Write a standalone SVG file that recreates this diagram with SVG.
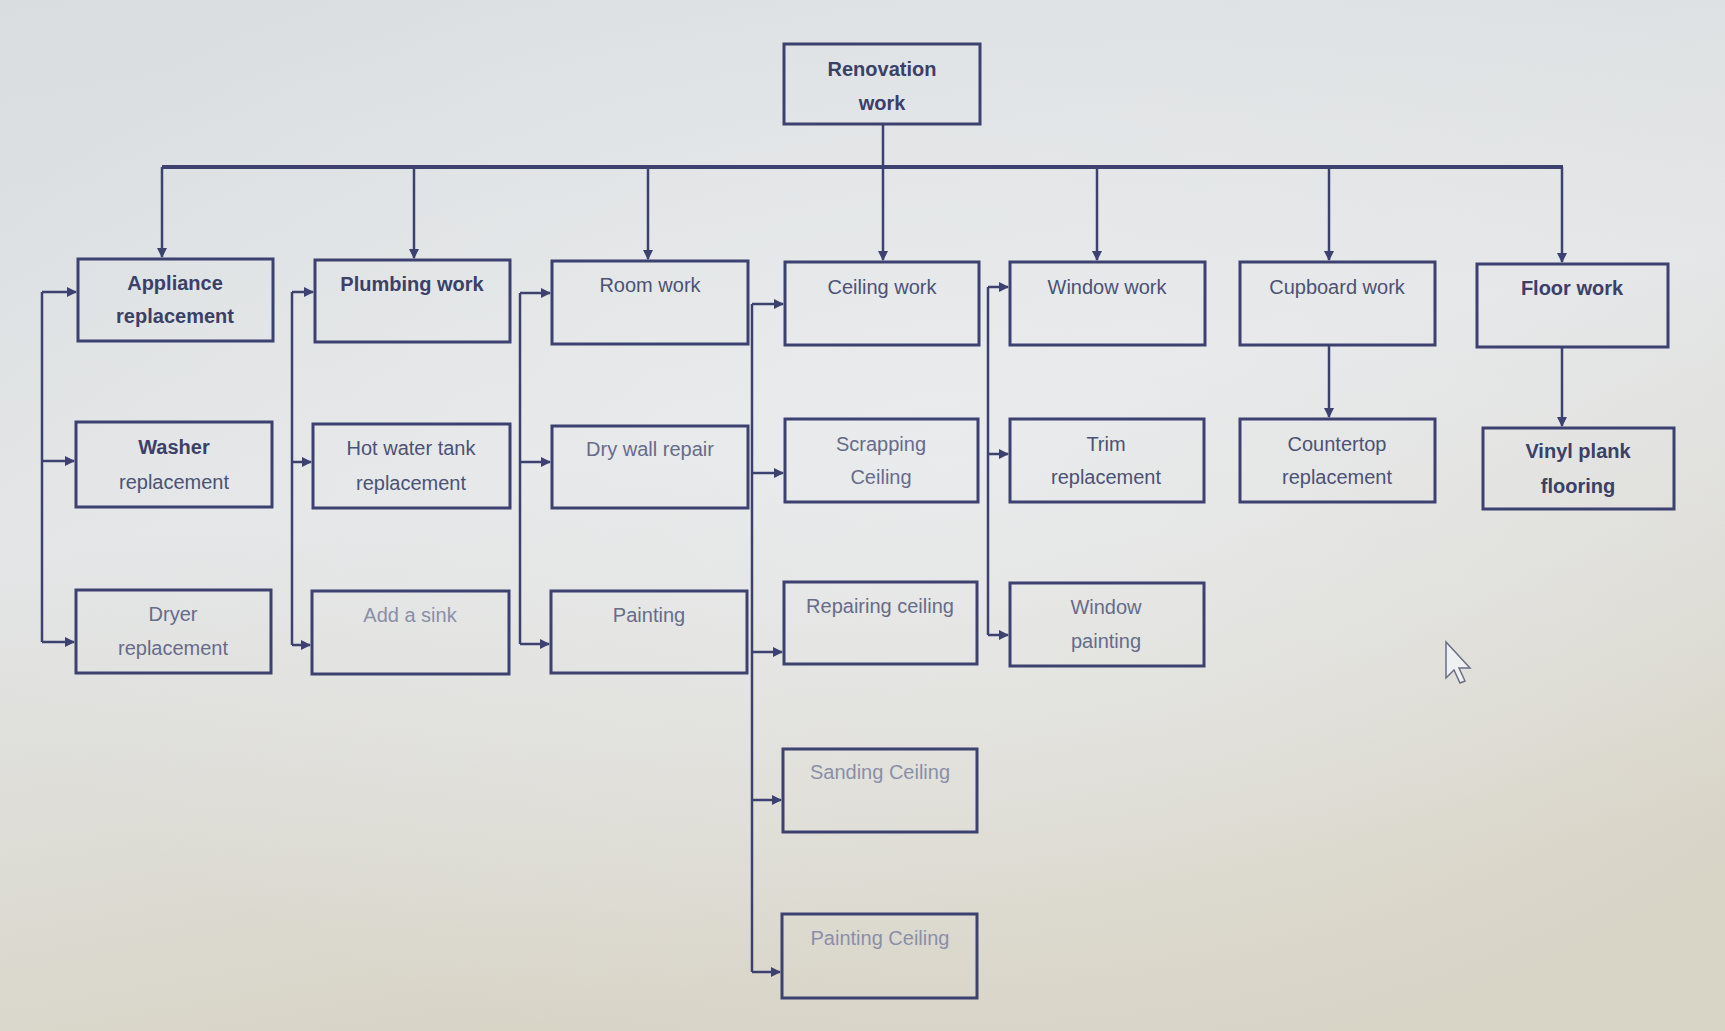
<svg xmlns="http://www.w3.org/2000/svg" width="1725" height="1031" viewBox="0 0 1725 1031">
<defs>
<linearGradient id="bg" x1="0" y1="0" x2="0.3" y2="1">
<stop offset="0" stop-color="#d9dde0"/>
<stop offset="0.5" stop-color="#e3e5e6"/>
<stop offset="1" stop-color="#d8d4c6"/>
</linearGradient>
<radialGradient id="glow" cx="0.55" cy="0.45" r="0.6">
<stop offset="0" stop-color="#eceef0" stop-opacity="0.7"/>
<stop offset="1" stop-color="#eceef0" stop-opacity="0"/>
</radialGradient>
<marker id="ah" viewBox="0 0 10 10" refX="9" refY="5" markerWidth="11" markerHeight="10" markerUnits="userSpaceOnUse" orient="auto">
<path d="M0,0 L10,5 L0,10 z" fill="#3d4170"/>
</marker>
</defs>
<style>
.box{fill:none;stroke:#3d4170;stroke-width:3}
.ln{fill:none;stroke:#3d4170;stroke-width:2.5}
.bus{fill:none;stroke:#3d4170;stroke-width:4}
text{font-family:"Liberation Sans",Arial,sans-serif;font-size:20px;text-anchor:middle}
.t1{font-weight:bold;fill:#3b4068}
.t2{fill:#4c5275}
.t3{fill:#666c8a}
.t4{fill:#8a8fa8}
</style>
<rect width="1725" height="1031" fill="url(#bg)"/>
<rect width="1725" height="1031" fill="url(#glow)"/>

<g id="connectors">
<path class="ln" d="M883,124 V167"/>
<path class="bus" d="M162,167 H1563"/>
<path class="ln" d="M162,167 V257" marker-end="url(#ah)"/>
<path class="ln" d="M414,167 V258" marker-end="url(#ah)"/>
<path class="ln" d="M648,167 V259" marker-end="url(#ah)"/>
<path class="ln" d="M883,167 V260" marker-end="url(#ah)"/>
<path class="ln" d="M1097,167 V260" marker-end="url(#ah)"/>
<path class="ln" d="M1329,167 V260" marker-end="url(#ah)"/>
<path class="ln" d="M1562,167 V262" marker-end="url(#ah)"/>
<path class="ln" d="M1329,345 V417" marker-end="url(#ah)"/>
<path class="ln" d="M1562,347 V426" marker-end="url(#ah)"/>
<path class="ln" d="M42,292 V642"/>
<path class="ln" d="M42,292 H76" marker-end="url(#ah)"/>
<path class="ln" d="M42,461 H74" marker-end="url(#ah)"/>
<path class="ln" d="M42,642 H74" marker-end="url(#ah)"/>
<path class="ln" d="M292,292 V645"/>
<path class="ln" d="M292,292 H313" marker-end="url(#ah)"/>
<path class="ln" d="M292,462 H311" marker-end="url(#ah)"/>
<path class="ln" d="M292,645 H310" marker-end="url(#ah)"/>
<path class="ln" d="M520,293 V644"/>
<path class="ln" d="M520,293 H550" marker-end="url(#ah)"/>
<path class="ln" d="M520,462 H550" marker-end="url(#ah)"/>
<path class="ln" d="M520,644 H549" marker-end="url(#ah)"/>
<path class="ln" d="M752,304 V972"/>
<path class="ln" d="M752,304 H783" marker-end="url(#ah)"/>
<path class="ln" d="M752,473 H783" marker-end="url(#ah)"/>
<path class="ln" d="M752,652 H782" marker-end="url(#ah)"/>
<path class="ln" d="M752,800 H781" marker-end="url(#ah)"/>
<path class="ln" d="M752,972 H780" marker-end="url(#ah)"/>
<path class="ln" d="M988,287 V635"/>
<path class="ln" d="M988,287 H1008" marker-end="url(#ah)"/>
<path class="ln" d="M988,454 H1008" marker-end="url(#ah)"/>
<path class="ln" d="M988,635 H1008" marker-end="url(#ah)"/>
</g>

<g id="n-root"><rect class="box" x="784" y="44" width="196" height="80"/><text class="t1" x="882" y="76">Renovation</text><text class="t1" x="882" y="110">work</text></g>

<g id="n-appliance"><rect class="box" x="78" y="259" width="195" height="82"/><text class="t1" x="175" y="290">Appliance</text><text class="t1" x="175" y="323">replacement</text></g>
<g id="n-plumbing"><rect class="box" x="315" y="260" width="195" height="82"/><text class="t1" x="412" y="291">Plumbing work</text></g>
<g id="n-room"><rect class="box" x="552" y="261" width="196" height="83"/><text class="t2" x="650" y="292">Room work</text></g>
<g id="n-ceiling"><rect class="box" x="785" y="262" width="194" height="83"/><text class="t2" x="882" y="294">Ceiling work</text></g>
<g id="n-window"><rect class="box" x="1010" y="262" width="195" height="83"/><text class="t2" x="1107" y="294">Window work</text></g>
<g id="n-cupboard"><rect class="box" x="1240" y="262" width="195" height="83"/><text class="t2" x="1337" y="294">Cupboard work</text></g>
<g id="n-floor"><rect class="box" x="1477" y="264" width="191" height="83"/><text class="t1" x="1572" y="295">Floor work</text></g>

<g id="n-washer"><rect class="box" x="76" y="422" width="196" height="85"/><text class="t1" x="174" y="454">Washer</text><text class="t2" x="174" y="489">replacement</text></g>
<g id="n-hotwater"><rect class="box" x="313" y="424" width="197" height="84"/><text class="t2" x="411" y="455">Hot water tank</text><text class="t2" x="411" y="490">replacement</text></g>
<g id="n-drywall"><rect class="box" x="552" y="426" width="196" height="82"/><text class="t3" x="650" y="456">Dry wall repair</text></g>
<g id="n-scrapping"><rect class="box" x="785" y="419" width="193" height="83"/><text class="t3" x="881" y="451">Scrapping</text><text class="t3" x="881" y="484">Ceiling</text></g>
<g id="n-trim"><rect class="box" x="1010" y="419" width="194" height="83"/><text class="t2" x="1106" y="451">Trim</text><text class="t2" x="1106" y="484">replacement</text></g>
<g id="n-countertop"><rect class="box" x="1240" y="419" width="195" height="83"/><text class="t2" x="1337" y="451">Countertop</text><text class="t2" x="1337" y="484">replacement</text></g>
<g id="n-vinyl"><rect class="box" x="1483" y="428" width="191" height="81"/><text class="t1" x="1578" y="458">Vinyl plank</text><text class="t1" x="1578" y="493">flooring</text></g>

<g id="n-dryer"><rect class="box" x="76" y="590" width="195" height="83"/><text class="t3" x="173" y="621">Dryer</text><text class="t3" x="173" y="655">replacement</text></g>
<g id="n-sink"><rect class="box" x="312" y="591" width="197" height="83"/><text class="t4" x="410" y="622">Add a sink</text></g>
<g id="n-painting"><rect class="box" x="551" y="591" width="196" height="82"/><text class="t3" x="649" y="622">Painting</text></g>
<g id="n-repairing"><rect class="box" x="784" y="582" width="193" height="82"/><text class="t3" x="880" y="613">Repairing ceiling</text></g>
<g id="n-winpaint"><rect class="box" x="1010" y="583" width="194" height="83"/><text class="t3" x="1106" y="614">Window</text><text class="t3" x="1106" y="648">painting</text></g>
<g id="n-sanding"><rect class="box" x="783" y="749" width="194" height="83"/><text class="t4" x="880" y="779">Sanding Ceiling</text></g>
<g id="n-paintceil"><rect class="box" x="782" y="914" width="195" height="84"/><text class="t4" x="880" y="945">Painting Ceiling</text></g>

<path d="M1446,642 L1446,678 L1454,670 L1460,683 L1465,681 L1459,668 L1470,668 Z" fill="#eef0f2" stroke="#6a6f85" stroke-width="1.5"/>
</svg>
